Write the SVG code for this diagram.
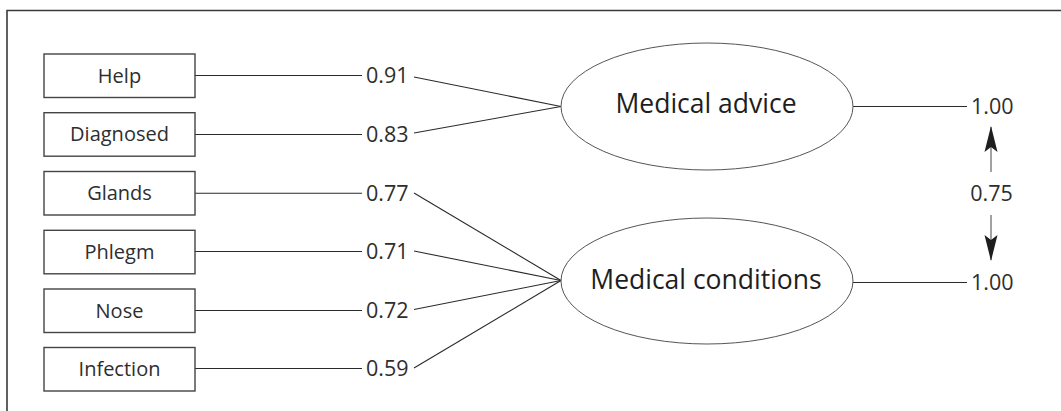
<svg xmlns="http://www.w3.org/2000/svg" width="1061" height="411" viewBox="0 0 1061 411">
  <defs>
    <style>
      .frame { fill: none; stroke: #3a3a3a; stroke-width: 1.6; }
      .box { fill: #ffffff; stroke: #444444; stroke-width: 1.4; }
      .latent { fill: #ffffff; stroke: #555555; stroke-width: 1; }
      .edge { fill: none; stroke: #2a2a2a; stroke-width: 1.1; }
      .arrow { fill: none; stroke: #555555; stroke-width: 1.1; }
      .lbl { font-family: "Open Sans", "Noto Sans", sans-serif; font-size: 20px; fill: #2e2e2e; text-anchor: middle; }
      .num { font-family: "Open Sans", "Noto Sans", sans-serif; font-size: 21.5px; fill: #2e2e2e; }
      .big { font-family: "Open Sans", "Noto Sans", sans-serif; font-size: 26.5px; fill: #1e1e1e; text-anchor: middle; }
    </style>
    <marker id="dart" viewBox="0 0 26 14" refX="25" refY="7" markerWidth="26" markerHeight="14" markerUnits="userSpaceOnUse" orient="auto">
      <path d="M0,0.5 L26,7 L0,13.5 L5,7 Z" fill="#1e1e1e"/>
    </marker>
  </defs>

  <!-- panel frame: top and left rules only -->
  <path class="frame" d="M7,411 V10.5 H1061"/>

  <!-- connectors -->
  <g id="connectors">
    <!-- indicator to loading value -->
    <line class="edge" x1="195" y1="75.5" x2="362" y2="75.5"/>
    <line class="edge" x1="195" y1="134.5" x2="362" y2="134.5"/>
    <line class="edge" x1="195" y1="193.3" x2="362" y2="193.3"/>
    <line class="edge" x1="195" y1="251.5" x2="362" y2="251.5"/>
    <line class="edge" x1="195" y1="310.5" x2="362" y2="310.5"/>
    <line class="edge" x1="195" y1="368.5" x2="362" y2="368.5"/>
    <!-- loading value to factor -->
    <line class="edge" x1="414" y1="77" x2="561" y2="106.5"/>
    <line class="edge" x1="414" y1="133" x2="561" y2="106.5"/>
    <line class="edge" x1="414" y1="193" x2="561" y2="280.5"/>
    <line class="edge" x1="414" y1="251" x2="561" y2="280.5"/>
    <line class="edge" x1="414" y1="309.5" x2="561" y2="280.5"/>
    <line class="edge" x1="414" y1="368" x2="561" y2="280.5"/>
    <!-- factor variances -->
    <line class="edge" x1="853" y1="106.5" x2="967" y2="106.5"/>
    <line class="edge" x1="853" y1="282.5" x2="967" y2="282.5"/>
    <!-- factor covariance -->
    <line class="arrow" x1="991" y1="172" x2="991" y2="127" marker-end="url(#dart)"/>
    <line class="arrow" x1="991" y1="215" x2="991" y2="260" marker-end="url(#dart)"/>
  </g>

  <!-- observed indicators -->
  <g id="help">
    <rect class="box" x="44" y="54" width="151" height="43.5"/>
    <text class="lbl" x="119.5" y="82.5">Help</text>
  </g>
  <g id="diagnosed">
    <rect class="box" x="44" y="112.7" width="151" height="43.5"/>
    <text class="lbl" x="119.5" y="141.3">Diagnosed</text>
  </g>
  <g id="glands">
    <rect class="box" x="44" y="171.5" width="151" height="43.5"/>
    <text class="lbl" x="119.5" y="200.1">Glands</text>
  </g>
  <g id="phlegm">
    <rect class="box" x="44" y="230.3" width="151" height="43.5"/>
    <text class="lbl" x="119.5" y="258.9">Phlegm</text>
  </g>
  <g id="nose">
    <rect class="box" x="44" y="289" width="151" height="43.5"/>
    <text class="lbl" x="119.5" y="317.6">Nose</text>
  </g>
  <g id="infection">
    <rect class="box" x="44" y="347.5" width="151" height="43.5"/>
    <text class="lbl" x="119.5" y="376.1">Infection</text>
  </g>

  <!-- loadings -->
  <g id="loadings">
    <text class="num" x="366" y="83">0.91</text>
    <text class="num" x="366" y="141.8">0.83</text>
    <text class="num" x="366" y="200.6">0.77</text>
    <text class="num" x="366" y="259">0.71</text>
    <text class="num" x="366" y="317.8">0.72</text>
    <text class="num" x="366" y="376">0.59</text>
  </g>

  <!-- latent factors -->
  <g id="medical-advice">
    <ellipse class="latent" cx="707" cy="106.5" rx="146" ry="63.5"/>
    <text class="big" x="706" y="113">Medical advice</text>
  </g>
  <g id="medical-conditions">
    <ellipse class="latent" cx="707" cy="281" rx="146" ry="63"/>
    <text class="big" x="706" y="288.5">Medical conditions</text>
  </g>

  <!-- variances and covariance -->
  <g id="variances">
    <text class="num" x="971" y="114">1.00</text>
    <text class="num" x="971" y="290">1.00</text>
    <text class="num" x="991.5" y="200.5" text-anchor="middle">0.75</text>
  </g>
</svg>
